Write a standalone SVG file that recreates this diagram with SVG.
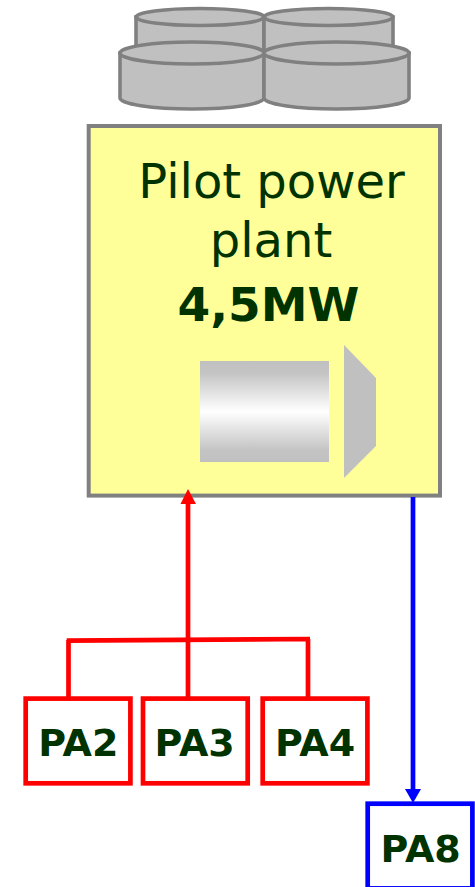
<svg xmlns="http://www.w3.org/2000/svg" width="475" height="887" viewBox="0 0 475 887">
<style>
.cyl{fill:#c0c0c0;stroke:#808080;stroke-width:3.600}
.t{font-family:"DejaVu Sans",Verdana,sans-serif;fill:#003300;text-anchor:middle}
.b{font-weight:bold}
.pa{fill:#fff;stroke-width:4.700}
.red{stroke:#f00;fill:none;stroke-width:4.700}
.blue{stroke:#00f;fill:none;stroke-width:4.700}
</style>
<defs>
<linearGradient id="g" x1="0" y1="0" x2="0" y2="1">
<stop offset="0" stop-color="#c0c0c0"/><stop offset="0.12" stop-color="#c4c4c4"/><stop offset="0.5" stop-color="#fff"/><stop offset="0.88" stop-color="#c4c4c4"/><stop offset="1" stop-color="#c0c0c0"/>
</linearGradient>
</defs>
<g id="storage">
<path class="cyl" d="M136 17V60H264V17Z"/>
<ellipse class="cyl" cx="200" cy="17" rx="64" ry="8.500"/>
<path class="cyl" d="M264 17V60H393V17Z"/>
<ellipse class="cyl" cx="328.500" cy="17" rx="64.500" ry="8.500"/>
<path class="cyl" d="M120 53V98C120 104 152 109 192 109S264 104 264 98V53Z"/>
<ellipse class="cyl" cx="192" cy="53" rx="72" ry="11"/>
<path class="cyl" d="M264 53V98C264 104 296 109 336.500 109S409 104 409 98V53Z"/>
<ellipse class="cyl" cx="336.500" cy="53" rx="72.500" ry="11"/>
</g>
<g id="plant">
<rect x="88.700" y="126" width="351.300" height="369.600" fill="#ffff99" stroke="#808080" stroke-width="4"/>
<text class="t" x="271.500" y="198" font-size="48">Pilot power</text>
<text class="t" x="271" y="257" font-size="48">plant</text>
<text class="t b" x="268.500" y="321" font-size="47">4,5MW</text>
<rect x="200" y="361" width="129" height="101" fill="url(#g)"/>
<polygon points="344,345 376,378 376,446 344,478" fill="#c0c0c0"/>
</g>
<g id="connectors">
<path class="red" d="M188 503V698"/>
<polygon points="188,489 196,504 180.500,504" fill="#f00"/>
<path class="red" d="M66.700 640.700L310 639M68.500 640V698M308 639V698"/>
<path class="blue" d="M413 497V791"/>
<polygon points="413,803 405,789 421,789" fill="#00f"/>
</g>
<g id="PA2"><rect class="pa" x="25.700" y="698.600" width="104.700" height="84.700" stroke="#f00"/><text class="t b" x="78.300" y="756" font-size="38">PA2</text></g>
<g id="PA3"><rect class="pa" x="143" y="698.600" width="104.700" height="84.700" stroke="#f00"/><text class="t b" x="194.700" y="756" font-size="38">PA3</text></g>
<g id="PA4"><rect class="pa" x="262.700" y="698.600" width="104.700" height="84.700" stroke="#f00"/><text class="t b" x="315" y="756" font-size="38">PA4</text></g>
<g id="PA8"><rect class="pa" x="367.700" y="803.700" width="104.700" height="84.700" stroke="#00f"/><text class="t b" x="420.700" y="861.500" font-size="38">PA8</text></g>
</svg>
